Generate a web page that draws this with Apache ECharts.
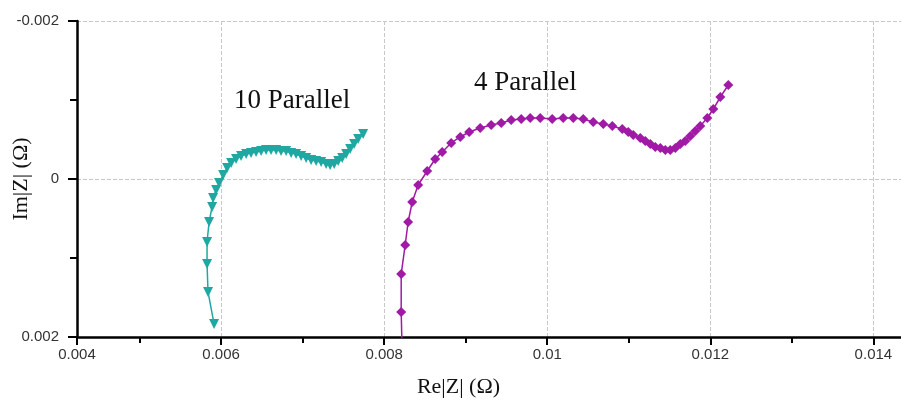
<!DOCTYPE html>
<html>
<head>
<meta charset="utf-8">
<script src="https://cdn.jsdelivr.net/npm/echarts@6/dist/echarts.min.js"></script>
<style>
  html, body { margin: 0; padding: 0; background: #fff; }
  #main { width: 901px; height: 400px; }
</style>
</head>
<body>
<div id="main"></div>
<script>
  // 10 Parallel
  var par10Re = [0.005914, 0.005840, 0.005828, 0.005828, 0.005853, 0.005890, 0.005902, 0.005939, 0.005975, 0.006025,
    0.006074, 0.006123, 0.006184, 0.006245, 0.006307, 0.006368, 0.006429, 0.006491, 0.006552, 0.006613,
    0.006675, 0.006736, 0.006798, 0.006859, 0.006920, 0.006982, 0.007043, 0.007104, 0.007166, 0.007227,
    0.007288, 0.007337, 0.007387, 0.007436, 0.007485, 0.007534, 0.007583, 0.007632, 0.007681, 0.007742];
  var par10Im = [0.001835, 0.001430, 0.001076, 0.000797, 0.000544, 0.000354, 0.000241, 0.000139, 0.000051, -0.000051,
    -0.000139, -0.000203, -0.000253, -0.000291, -0.000316, -0.000329, -0.000342, -0.000354, -0.000367, -0.000367,
    -0.000367, -0.000354, -0.000354, -0.000329, -0.000316, -0.000291, -0.000266, -0.000241, -0.000228, -0.000215,
    -0.000190, -0.000177, -0.000190, -0.000228, -0.000266, -0.000316, -0.000380, -0.000443, -0.000506, -0.000570];

  // 4 Parallel
  var par4Re = [0.008221, 0.008209, 0.008209, 0.008258, 0.008294, 0.008344, 0.008417, 0.008528, 0.008626, 0.008712,
    0.008822, 0.008933, 0.009043, 0.009178, 0.009313, 0.009436, 0.009558, 0.009681, 0.009791, 0.009914,
    0.010061, 0.010196, 0.010319, 0.010442, 0.010564, 0.010687, 0.010798, 0.010920, 0.010994, 0.011055,
    0.011141, 0.011202, 0.011264, 0.011325, 0.011387, 0.011448, 0.011509, 0.011571, 0.011632, 0.011693,
    0.011755, 0.011816, 0.011877, 0.011963, 0.012037, 0.012123, 0.012221];
  var par4Im = [0.002203, 0.001684, 0.001203, 0.000835, 0.000544, 0.000291, 0.000076, -0.000101, -0.000253, -0.000342,
    -0.000456, -0.000532, -0.000595, -0.000646, -0.000684, -0.000709, -0.000747, -0.000759, -0.000772, -0.000772,
    -0.000759, -0.000772, -0.000772, -0.000759, -0.000722, -0.000696, -0.000671, -0.000633, -0.000595, -0.000557,
    -0.000519, -0.000481, -0.000443, -0.000405, -0.000392, -0.000367, -0.000367, -0.000392, -0.000443, -0.000481,
    -0.000544, -0.000608, -0.000671, -0.000772, -0.000886, -0.001038, -0.001190];

  var xTickValues = [0.004, 0.006, 0.008, 0.01, 0.012, 0.014];
  var xTickLabels = ['0.004', '0.006', '0.008', '0.01', '0.012', '0.014'];
  var yTickValues = [-0.002, 0, 0.002];
  var yTickLabels = ['-0.002', '0', '0.002'];

  function zip(xs, ys) {
    var out = [];
    for (var i = 0; i < xs.length; i++) out.push([xs[i], ys[i]]);
    return out;
  }

  function pickLabel(values, labels, tol) {
    return function (v) {
      for (var i = 0; i < values.length; i++) {
        if (Math.abs(v - values[i]) < tol) return labels[i];
      }
      return '';
    };
  }

  // axis starts a little right of 0.004 in the original; the far end runs just past the page edge
  var xMin = 0.004233, xMax = 0.0144;
  var labelFont = "'Liberation Sans', Arial, sans-serif";
  var serif = "'Liberation Serif', 'Times New Roman', serif";

  var myChart = echarts.init(document.getElementById('main'));
  myChart.setOption({
    animation: false,
    backgroundColor: '#fff',
    grid: { left: 77, right: -5, top: 21, bottom: 63, containLabel: false, outerBoundsMode: 'none' },
    graphic: [
      { type: 'text', left: 234, top: 87, style: { text: '10 Parallel', font: '27px ' + serif, fill: '#111' } },
      { type: 'text', left: 474, top: 69, style: { text: '4 Parallel', font: '27px ' + serif, fill: '#111' } }
    ],
    xAxis: [
      {
        type: 'value',
        position: 'bottom',
        min: xMin,
        max: xMax,
        splitNumber: 5,
        name: 'Re|Z| (Ω)',
        nameLocation: 'middle',
        nameGap: 39,
        nameMoveOverlap: false,
        nameTextStyle: { fontFamily: serif, fontSize: 22, color: '#111', padding: [0, 66, 0, 0] },
        axisLine: { onZero: false, lineStyle: { color: '#000', width: 2.5 } },
        axisTick: { show: true, length: 8, lineStyle: { color: '#000', width: 2 } },
        axisLabel: { margin: 10, fontFamily: labelFont, fontSize: 15, color: '#333', formatter: pickLabel(xTickValues, xTickLabels, 0.00025) },
        splitLine: { show: true, lineStyle: { color: '#c8c8c8', type: 'dashed', width: 1 } }
      },
      {
        // half-step ticks (0.005, 0.007, ...)
        type: 'value',
        position: 'bottom',
        min: xMin,
        max: xMax,
        splitNumber: 10,
        axisLine: { show: false, onZero: false },
        axisTick: { show: true, length: 6, lineStyle: { color: '#000', width: 2 } },
        axisLabel: { show: false },
        splitLine: { show: false }
      }
    ],
    yAxis: {
      type: 'value',
      inverse: true,
      min: -0.002,
      max: 0.002,
      interval: 0.002,
      name: 'Im|Z| (Ω)',
      nameLocation: 'middle',
      nameGap: 45,
      nameMoveOverlap: false,
      nameTextStyle: { fontFamily: serif, fontSize: 22, color: '#111' },
      axisLine: { onZero: false, lineStyle: { color: '#000', width: 2.5 } },
      axisTick: { show: true, length: 9, lineStyle: { color: '#000', width: 2 } },
      minorTick: { show: true, splitNumber: 2, length: 7, lineStyle: { color: '#000', width: 2 } },
      axisLabel: { margin: 18, fontFamily: labelFont, fontSize: 15, color: '#333', formatter: pickLabel(yTickValues, yTickLabels, 0.0001) },
      splitLine: { show: true, lineStyle: { color: '#c8c8c8', type: 'dashed', width: 1 } }
    },
    series: [
      {
        name: '10 Parallel',
        type: 'line',
        xAxisIndex: 0,
        data: zip(par10Re, par10Im),
        symbol: 'triangle',
        symbolRotate: 180,
        symbolSize: 10,
        itemStyle: { color: '#1fa8a2' },
        lineStyle: { color: '#1fa8a2', width: 1.5 },
        clip: true
      },
      {
        name: '4 Parallel',
        type: 'line',
        xAxisIndex: 0,
        data: zip(par4Re, par4Im),
        symbol: 'diamond',
        symbolSize: 10,
        itemStyle: { color: '#a01aa6' },
        lineStyle: { color: '#a01aa6', width: 1.5 },
        clip: true
      }
    ]
  });
</script>
</body>
</html>
